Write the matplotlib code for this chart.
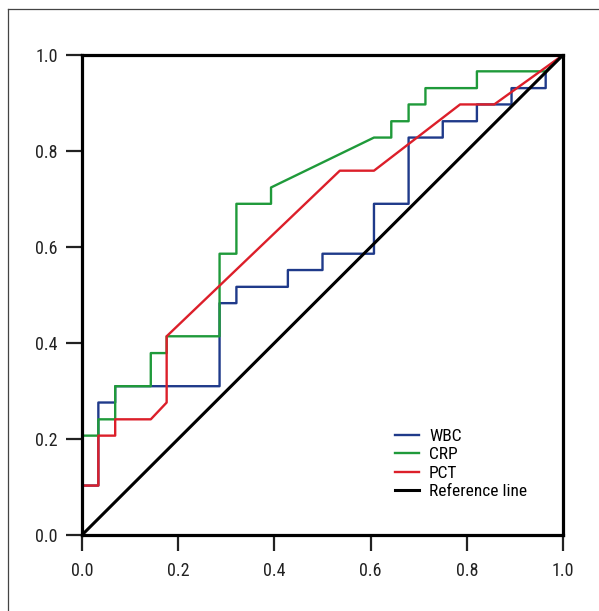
import matplotlib
matplotlib.use("Agg")
import matplotlib.pyplot as plt
from matplotlib import font_manager
from matplotlib.lines import Line2D

# ROC curve points (1 - specificity, sensitivity)
wbc_x = [0, 0, 0.034, 0.034, 0.069, 0.069, 0.286, 0.286, 0.321, 0.321, 0.428, 0.428,
         0.500, 0.500, 0.607, 0.607, 0.679, 0.679, 0.750, 0.750, 0.821, 0.821,
         0.893, 0.893, 0.964, 0.964, 1.0]
wbc_y = [0, 0.103, 0.103, 0.276, 0.276, 0.310, 0.310, 0.483, 0.483, 0.517, 0.517, 0.552,
         0.552, 0.586, 0.586, 0.690, 0.690, 0.828, 0.828, 0.862, 0.862, 0.897,
         0.897, 0.931, 0.931, 0.966, 1.0]

crp_x = [0, 0, 0.034, 0.034, 0.069, 0.069, 0.143, 0.143, 0.176, 0.176, 0.286, 0.286,
         0.321, 0.321, 0.393, 0.393, 0.607, 0.643, 0.643, 0.679, 0.679, 0.714, 0.714,
         0.821, 0.821, 0.964, 1.0]
crp_y = [0, 0.207, 0.207, 0.241, 0.241, 0.310, 0.310, 0.379, 0.379, 0.414, 0.414, 0.586,
         0.586, 0.690, 0.690, 0.724, 0.828, 0.828, 0.862, 0.862, 0.897, 0.897, 0.931,
         0.931, 0.966, 0.966, 1.0]

pct_x = [0, 0, 0.034, 0.034, 0.069, 0.069, 0.143, 0.176, 0.176, 0.536, 0.607, 0.786,
         0.857, 1.0]
pct_y = [0, 0.103, 0.103, 0.207, 0.207, 0.241, 0.241, 0.276, 0.414, 0.759, 0.759, 0.897,
         0.897, 1.0]

ticks = [0.0, 0.2, 0.4, 0.6, 0.8, 1.0]
tick_labels = ["0.0", "0.2", "0.4", "0.6", "0.8", "1.0"]

# pick a narrow font if one is around
names = {f.name for f in font_manager.fontManager.ttflist}
family = "DejaVu Sans"
for cand in ["Liberation Sans Narrow", "DejaVu Sans Condensed", "Roboto Condensed"]:
    if cand in names:
        family = cand
        break
plt.rcParams["font.family"] = [family, "DejaVu Sans"]

fig = plt.figure(figsize=(5.99, 6.11), dpi=100)
ax = fig.add_axes([82 / 599, 76 / 611, 481 / 599, 480 / 611])

ax.plot(wbc_x, wbc_y, color="#1f3a8a", lw=1.7, label="WBC")
ax.plot(crp_x, crp_y, color="#1f9a3a", lw=1.7, label="CRP")
ax.plot(pct_x, pct_y, color="#dc1f2a", lw=1.7, label="PCT")
ax.plot([0, 1], [0, 1], color="black", lw=2.2, label="Reference line")

ax.set_xlim(0, 1)
ax.set_ylim(0, 1)
ax.set_xticks(ticks)
ax.set_xticklabels(tick_labels)
ax.set_yticks(ticks)
ax.set_yticklabels(tick_labels)
ax.tick_params(length=11.5, width=1.6, labelsize=13, colors="#222222", pad=6)
ax.tick_params(axis="x", pad=8)
for s in ax.spines.values():
    s.set_linewidth(2.3)

ax.legend(loc="upper left", bbox_to_anchor=(0.651, 0.222), frameon=False, fontsize=12.5,
          handlelength=1.35, handletextpad=0.6, labelspacing=0.2,
          borderpad=0, borderaxespad=0)

# thin frame around the figure (left and top edges only visible)
fig.add_artist(Line2D([8 / 599, 8 / 599], [0, 1 - 9 / 611], color="#444444", lw=0.9))
fig.add_artist(Line2D([8 / 599, 1], [1 - 9 / 611, 1 - 9 / 611], color="#444444", lw=0.9))

fig.savefig("out.png", dpi=100)
